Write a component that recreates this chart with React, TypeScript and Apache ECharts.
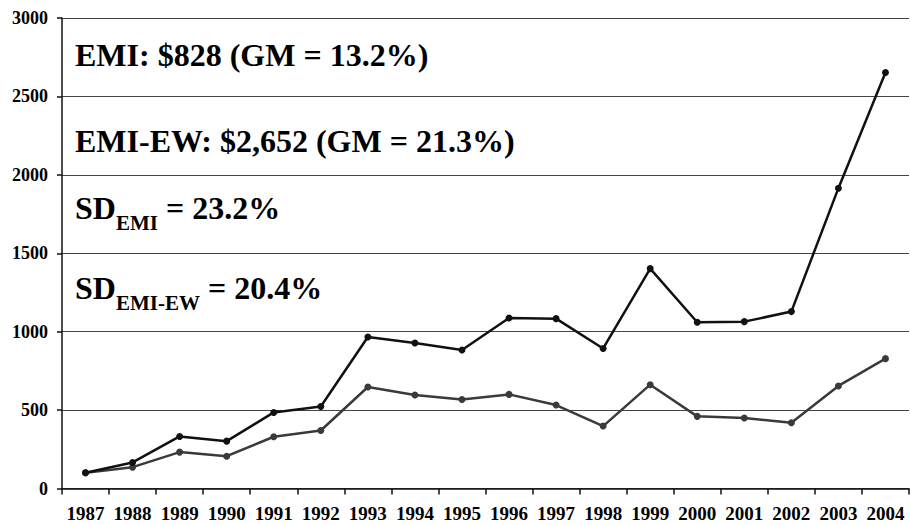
import React, { useEffect, useRef } from "react";
import * as echarts from "echarts";

const years = ["1987","1988","1989","1990","1991","1992","1993","1994","1995","1996","1997","1998","1999","2000","2001","2002","2003","2004"];
const emiEW = [100, 166, 332, 302, 485, 523, 966, 928, 883, 1087, 1083, 893, 1402, 1060, 1064, 1128, 1915, 2652];
const emi = [100, 136, 232, 206, 330, 370, 647, 596, 568, 600, 532, 398, 662, 460, 449, 419, 654, 828];
const yTicks = [0, 500, 1000, 1500, 2000, 2500, 3000];

const FONT = "Liberation Serif";

export default function App() {
  const ref = useRef<HTMLDivElement>(null);
  useEffect(() => {
    const chart = echarts.init(ref.current!, null, { renderer: "svg" });
    const big = { fontFamily: FONT, fontWeight: "bold", fontSize: 32, fill: "#000" };
    const sub = { fontFamily: FONT, fontWeight: "bold", fontSize: 21, fill: "#000" };
    const rich = {
      a: { ...big, verticalAlign: "bottom", lineHeight: 36, padding: [0, 0, 9, 0] },
      b: { ...sub, verticalAlign: "bottom", lineHeight: 24 },
    };
    chart.setOption({
      animation: false,
      backgroundColor: "#ffffff",
      grid: { left: 62, right: 1, top: 18, bottom: 36.5, containLabel: false },
      xAxis: {
        type: "category",
        data: years,
        boundaryGap: true,
        axisLine: { lineStyle: { color: "#111", width: 1.5 } },
        axisTick: { show: true, alignWithLabel: false, length: 6, lineStyle: { color: "#111", width: 1.5 } },
        axisLabel: { color: "#000", fontFamily: FONT, fontWeight: "bold", fontSize: 19, margin: 15, interval: 0 },
      },
      yAxis: {
        type: "value",
        min: yTicks[0],
        max: yTicks[yTicks.length - 1],
        interval: 500,
        axisLine: { show: true, lineStyle: { color: "#111", width: 1.5 } },
        axisTick: { show: true, length: 5, lineStyle: { color: "#111", width: 1.5 } },
        axisLabel: {
          color: "#000", fontFamily: FONT, fontWeight: "bold", fontSize: 18, margin: 14,
          formatter: (v: number) => String(v),
        },
        splitLine: { show: true, lineStyle: { color: "#444", width: 1.2 } },
      },
      series: [
        {
          name: "EMI",
          type: "line",
          data: emi,
          symbol: "circle",
          symbolSize: 7,
          lineStyle: { color: "#3a3a3a", width: 2.5 },
          itemStyle: { color: "#3a3a3a" },
          z: 3,
        },
        {
          name: "EMI-EW",
          type: "line",
          data: emiEW,
          symbol: "circle",
          symbolSize: 7,
          lineStyle: { color: "#111111", width: 2.5 },
          itemStyle: { color: "#111111" },
          z: 4,
        },
      ],
      graphic: [
        {
          type: "text",
          left: 75,
          top: 39,
          style: { text: "EMI: $828 (GM = 13.2%)", ...big },
        },
        {
          type: "text",
          left: 75,
          top: 125,
          style: { text: "EMI-EW: $2,652 (GM = 21.3%)", ...big },
        },
        {
          type: "text",
          left: 75,
          top: 192,
          style: { text: "{a|SD}{b|EMI}{a| = 23.2%}", rich },
        },
        {
          type: "text",
          left: 75,
          top: 272,
          style: { text: "{a|SD}{b|EMI-EW}{a| = 20.4%}", rich },
        },
      ],
    });
    return () => chart.dispose();
  }, []);
  return <div ref={ref} style={{ width: 910, height: 525, position: "fixed", left: 0, top: 0 }} />;
}
